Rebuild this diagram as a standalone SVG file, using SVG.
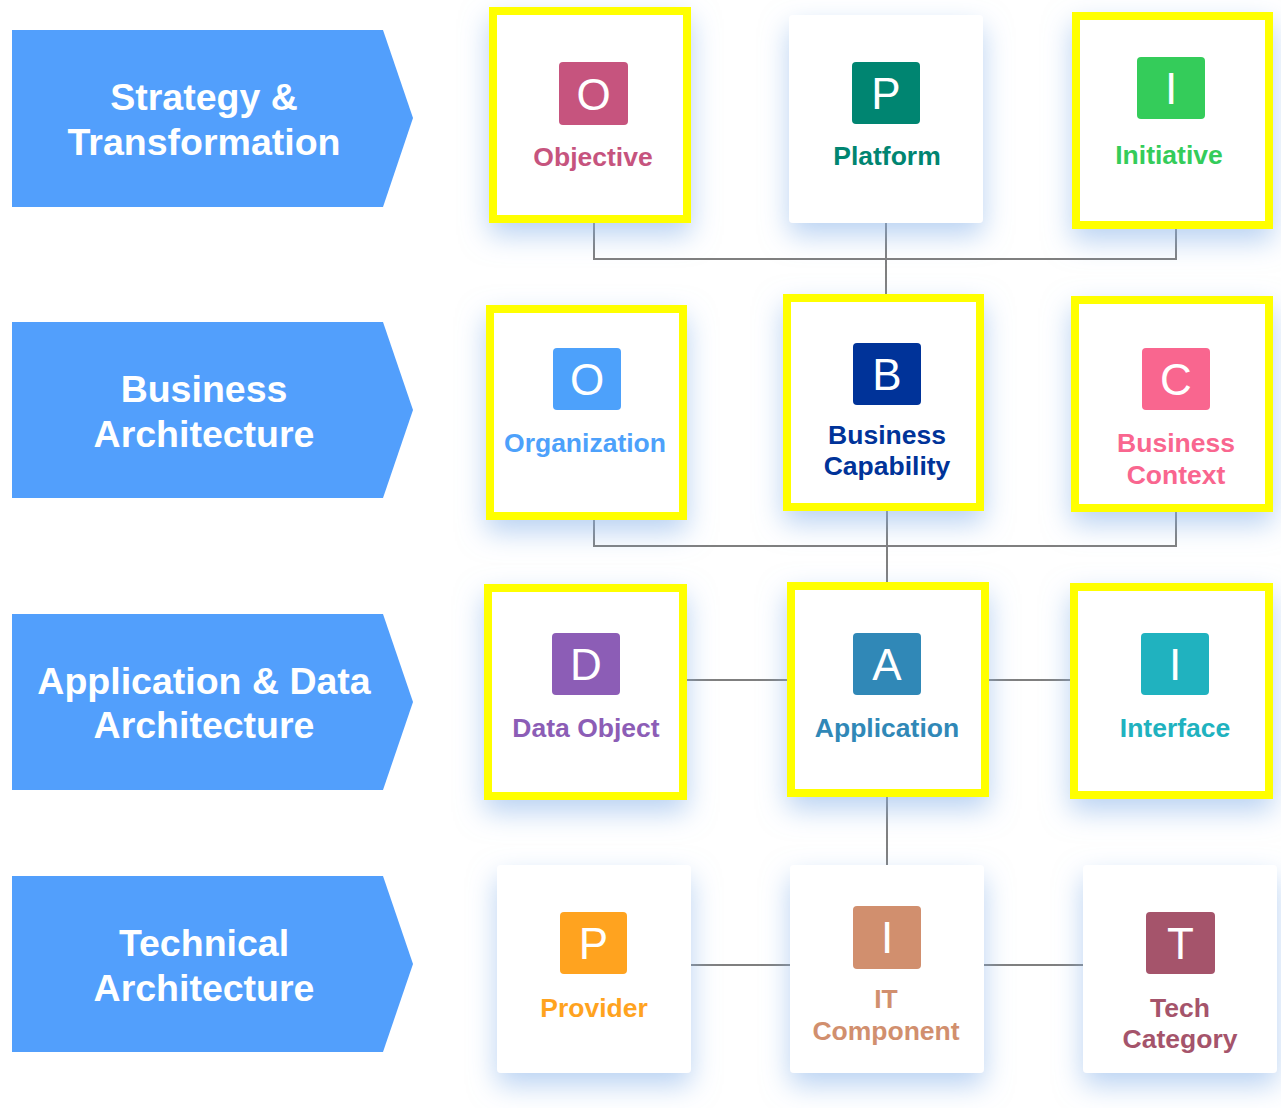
<svg xmlns="http://www.w3.org/2000/svg" width="1281" height="1108" viewBox="0 0 1281 1108">
<defs>
<filter id="sh" x="-40%" y="-40%" width="180%" height="190%">
<feDropShadow dx="0" dy="12" stdDeviation="14" flood-color="#8ab4ea" flood-opacity="0.6"/>
</filter>
<style>
.banner{fill:#529ffc}
.bt{font-family:"Liberation Sans",Arial,sans-serif;font-weight:bold;font-size:37.5px;fill:#ffffff;text-anchor:middle}
.card{fill:#ffffff;filter:url(#sh)}
.hl{fill:#ffffff;stroke:#ffff00;stroke-width:8;filter:url(#sh)}
.ic{font-family:"Liberation Sans",Arial,sans-serif;font-size:44px;fill:#ffffff;text-anchor:middle}
.lb{font-family:"Liberation Sans",Arial,sans-serif;font-weight:bold;font-size:26.5px;text-anchor:middle}
.con{fill:none;stroke:#7f7f7f;stroke-width:2}
</style>
</defs>
<rect width="1281" height="1108" fill="#ffffff"/>

<g id="banner-strategy">
<polygon class="banner" points="12,30 383,30 413,118 383,207 12,207"/>
<text class="bt" x="204" y="110">Strategy &amp;</text>
<text class="bt" x="204" y="155">Transformation</text>
</g>
<g id="banner-business">
<polygon class="banner" points="12,322 383,322 413,410 383,498 12,498"/>
<text class="bt" x="204" y="402">Business</text>
<text class="bt" x="204" y="447">Architecture</text>
</g>
<g id="banner-appdata">
<polygon class="banner" points="12,614 383,614 413,702 383,790 12,790"/>
<text class="bt" x="204" y="694">Application &amp; Data</text>
<text class="bt" x="204" y="738">Architecture</text>
</g>
<g id="banner-technical">
<polygon class="banner" points="12,876 383,876 413,964 383,1052 12,1052"/>
<text class="bt" x="204" y="956">Technical</text>
<text class="bt" x="204" y="1001">Architecture</text>
</g>

<g id="connectors">
<polyline class="con" points="594,223 594,259 1176,259 1176,229"/>
<line class="con" x1="886" y1="223" x2="886" y2="296"/>
<polyline class="con" points="594,520 594,546 1176,546 1176,512"/>
<line class="con" x1="887" y1="511" x2="887" y2="584"/>
<line class="con" x1="687" y1="680" x2="791" y2="680"/>
<line class="con" x1="985" y1="680" x2="1074" y2="680"/>
<line class="con" x1="887" y1="797" x2="887" y2="865"/>
<line class="con" x1="690" y1="965" x2="790" y2="965"/>
<line class="con" x1="983" y1="965" x2="1083" y2="965"/>
</g>

<g id="node-objective">
<rect class="hl" x="493" y="11" width="194" height="208"/>
<rect x="559" y="62" width="69" height="63" rx="4" fill="#c6547e"/>
<text class="ic" x="593.5" y="109.5">O</text>
<text class="lb" x="593" y="166" fill="#c6547e">Objective</text>
</g>
<g id="node-platform">
<rect class="card" x="789" y="15" width="194" height="208" rx="4"/>
<rect x="852" y="62" width="68" height="62" rx="4" fill="#008571"/>
<text class="ic" x="886" y="109">P</text>
<text class="lb" x="887" y="165" fill="#008571">Platform</text>
</g>
<g id="node-initiative">
<rect class="hl" x="1076" y="16" width="193" height="209"/>
<rect x="1137" y="57" width="68" height="62" rx="4" fill="#34cc5a"/>
<text class="ic" x="1171" y="104">I</text>
<text class="lb" x="1169" y="164" fill="#34cc5a">Initiative</text>
</g>

<g id="node-organization">
<rect class="hl" x="490" y="309" width="193" height="207"/>
<rect x="553" y="348" width="68" height="62" rx="4" fill="#4da1fb"/>
<text class="ic" x="587" y="395">O</text>
<text class="lb" x="585" y="452" fill="#4da1fb">Organization</text>
</g>
<g id="node-capability">
<rect class="hl" x="787" y="298" width="193" height="209"/>
<rect x="853" y="343" width="68" height="62" rx="4" fill="#003399"/>
<text class="ic" x="887" y="390">B</text>
<text class="lb" x="887" y="444" fill="#003399">Business</text>
<text class="lb" x="887" y="475" fill="#003399">Capability</text>
</g>
<g id="node-context">
<rect class="hl" x="1075" y="300" width="194" height="208"/>
<rect x="1142" y="348" width="68" height="62" rx="4" fill="#f9668f"/>
<text class="ic" x="1176" y="395">C</text>
<text class="lb" x="1176" y="452" fill="#f9668f">Business</text>
<text class="lb" x="1176" y="484" fill="#f9668f">Context</text>
</g>

<g id="node-dataobject">
<rect class="hl" x="488" y="588" width="195" height="208"/>
<rect x="552" y="633" width="68" height="62" rx="4" fill="#8c5db6"/>
<text class="ic" x="586" y="680">D</text>
<text class="lb" x="586" y="737" fill="#8c5db6">Data Object</text>
</g>
<g id="node-application">
<rect class="hl" x="791" y="586" width="194" height="207"/>
<rect x="853" y="633" width="68" height="62" rx="4" fill="#3088b7"/>
<text class="ic" x="887" y="680">A</text>
<text class="lb" x="887" y="737" fill="#3088b7">Application</text>
</g>
<g id="node-interface">
<rect class="hl" x="1074" y="587" width="195" height="208"/>
<rect x="1141" y="633" width="68" height="62" rx="4" fill="#20b2bf"/>
<text class="ic" x="1175" y="680">I</text>
<text class="lb" x="1175" y="737" fill="#20b2bf">Interface</text>
</g>

<g id="node-provider">
<rect class="card" x="497" y="865" width="194" height="208" rx="4"/>
<rect x="560" y="912" width="67" height="62" rx="4" fill="#ffa31f"/>
<text class="ic" x="593.5" y="959">P</text>
<text class="lb" x="594" y="1017" fill="#ffa31f">Provider</text>
</g>
<g id="node-itcomponent">
<rect class="card" x="790" y="865" width="194" height="208" rx="4"/>
<rect x="853" y="906" width="68" height="63" rx="4" fill="#d18f6e"/>
<text class="ic" x="887" y="953">I</text>
<text class="lb" x="886" y="1008" fill="#d18f6e">IT</text>
<text class="lb" x="886" y="1040" fill="#d18f6e">Component</text>
</g>
<g id="node-techcategory">
<rect class="card" x="1083" y="865" width="194" height="208" rx="4"/>
<rect x="1146" y="912" width="69" height="62" rx="4" fill="#a5546b"/>
<text class="ic" x="1180.5" y="959">T</text>
<text class="lb" x="1180" y="1017" fill="#a5546b">Tech</text>
<text class="lb" x="1180" y="1048" fill="#a5546b">Category</text>
</g>
</svg>
